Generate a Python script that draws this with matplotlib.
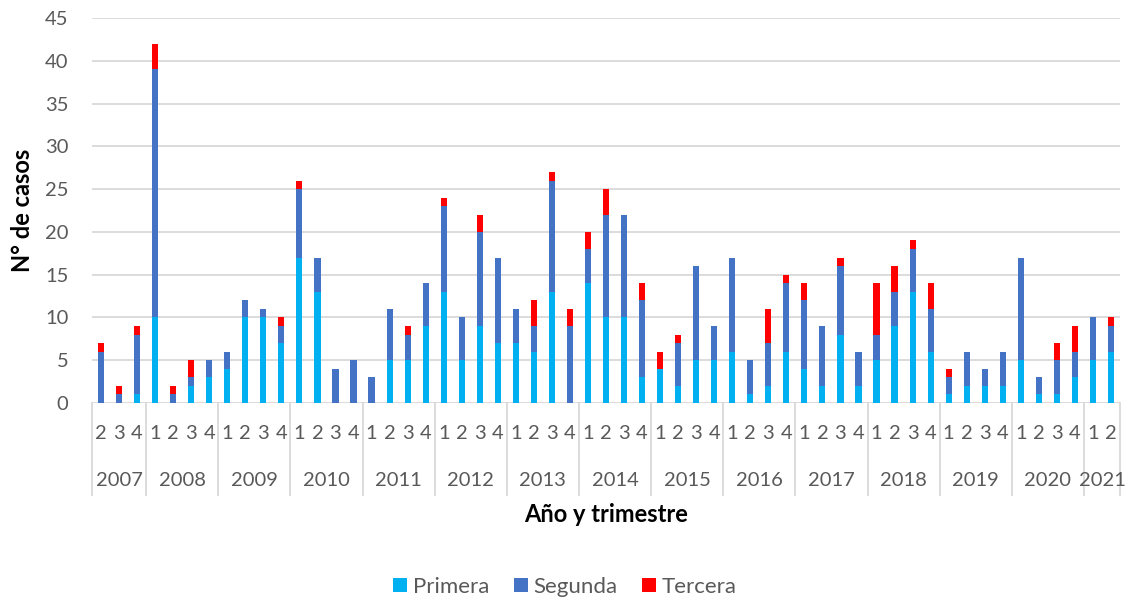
import numpy as np
import matplotlib
matplotlib.use('Agg')
import matplotlib.pyplot as plt
import matplotlib.transforms as mtransforms

plt.rcParams['font.family'] = ['Lato', 'DejaVu Sans']

# quarters 2007 Q2 .. 2021 Q2
years = ['2007', '2008', '2009', '2010', '2011', '2012', '2013', '2014',
         '2015', '2016', '2017', '2018', '2019', '2020', '2021']
quarters_per_year = [3, 4, 4, 4, 4, 4, 4, 4, 4, 4, 4, 4, 4, 4, 2]
quarter_labels = ['2', '3', '4'] + ['1', '2', '3', '4'] * 13 + ['1', '2']

primera = [0, 0, 1,
           10, 0, 2, 3,
           4, 10, 10, 7,
           17, 13, 0, 0,
           0, 5, 5, 9,
           13, 5, 9, 7,
           7, 6, 13, 0,
           14, 10, 10, 3,
           4, 2, 5, 5,
           6, 1, 2, 6,
           4, 2, 8, 2,
           5, 9, 13, 6,
           1, 2, 2, 2,
           5, 1, 1, 3,
           5, 6]
segunda = [6, 1, 7,
           29, 1, 1, 2,
           2, 2, 1, 2,
           8, 4, 4, 5,
           3, 6, 3, 5,
           10, 5, 11, 10,
           4, 3, 13, 9,
           4, 12, 12, 9,
           0, 5, 11, 4,
           11, 4, 5, 8,
           8, 7, 8, 4,
           3, 4, 5, 5,
           2, 4, 2, 4,
           12, 2, 4, 3,
           5, 3]
tercera = [1, 1, 1,
           3, 1, 2, 0,
           0, 0, 0, 1,
           1, 0, 0, 0,
           0, 0, 1, 0,
           1, 0, 2, 0,
           0, 3, 1, 2,
           2, 3, 0, 2,
           2, 1, 0, 0,
           0, 0, 4, 1,
           2, 0, 1, 0,
           6, 3, 1, 3,
           1, 0, 0, 0,
           0, 0, 2, 3,
           0, 1]

primera = np.array(primera)
segunda = np.array(segunda)
tercera = np.array(tercera)
x = np.arange(len(primera))

fig = plt.figure(figsize=(11.3, 6), dpi=100)
ax = fig.add_axes([92 / 1130, 197 / 600, 1028 / 1130, 385 / 600])

w = 0.34
ax.bar(x, primera, w, color='#00B0F0', label='Primera', zorder=3)
ax.bar(x, segunda, w, bottom=primera, color='#4472C4', label='Segunda', zorder=3)
ax.bar(x, tercera, w, bottom=primera + segunda, color='#FF0000', label='Tercera', zorder=3)

ax.set_xlim(-0.5, len(x) - 0.5)
ax.set_ylim(0, 45)
ax.set_yticks(range(0, 46, 5))
ax.grid(axis='y', color='#d9d9d9', lw=1.3, zorder=0)
for s in ax.spines.values():
    s.set_visible(False)
ax.tick_params(axis='y', length=0, pad=17, labelsize=14.5, labelcolor='#595959')

ax.set_xticks(x)
ax.set_xticklabels(quarter_labels)
ax.tick_params(axis='x', length=0, pad=16, labelsize=14.5, labelcolor='#595959')

# second level of the category axis: years and separators
trans = mtransforms.blended_transform_factory(ax.transData, ax.transAxes)
bottom_sep = -92 / 385
start = 0
ax.plot([-0.5, -0.5], [0, bottom_sep], transform=trans, color='#d9d9d9',
        lw=1.3, clip_on=False)
for yr, n in zip(years, quarters_per_year):
    end = start + n
    ax.text((start + end - 1) / 2, -78 / 385, yr, transform=trans,
            ha='center', va='center', fontsize=14.5, color='#595959')
    ax.plot([end - 0.5, end - 0.5], [0, bottom_sep], transform=trans,
            color='#d9d9d9', lw=1.3, clip_on=False)
    start = end

ax.text(0.5, -112 / 385, 'Año y trimestre', transform=ax.transAxes,
        ha='center', va='center', fontsize=17, fontweight='bold')
fig.text(23 / 1130, 1 - 210 / 600, 'N° de casos', rotation=90,
         ha='center', va='center', fontsize=17, fontweight='bold')

fig.legend(loc='center', bbox_to_anchor=(0.5, 1 - 587 / 600), ncol=3,
           frameon=False, fontsize=16, handlelength=0.63, handleheight=0.63,
           handletextpad=0.27, columnspacing=1.08, labelcolor='#595959')

fig.savefig('out.png', dpi=100)
